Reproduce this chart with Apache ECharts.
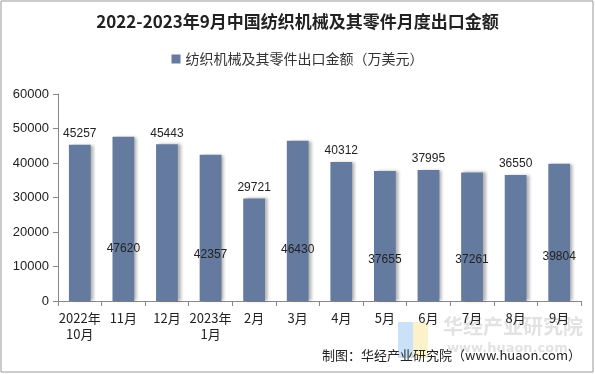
<!DOCTYPE html>
<html><head><meta charset="utf-8">
<script src="https://cdn.jsdelivr.net/npm/echarts@6/dist/echarts.min.js"></script>
<style>html,body{margin:0;padding:0;background:#fff}#c{width:595px;height:374px}</style>
</head><body><div id="c"></div>
<script>
const categories = ['2022年\n10月','11月','12月','2023年\n1月','2月','3月','4月','5月','6月','7月','8月','9月'];
const values = [45257,47620,45443,42357,29721,46430,40312,37655,37995,37261,36550,39804];
const yTicks = [0,10000,20000,30000,40000,50000,60000];
const seriesName = '纺织机械及其零件出口金额（万美元）';
const titleText = '2022-2023年9月中国纺织机械及其零件月度出口金额';
const sourceText = '制图：华经产业研究院（www.huaon.com）';

const data = values.map((v,i)=>({
  value: v,
  label: i % 2 === 0
    ? {position:'top', distance:5}
    : {position:['50%','68%'], align:'center', verticalAlign:'middle'}
}));

const chart = echarts.init(document.getElementById('c'));
chart.setOption({
  animation:false,
  title:{text:titleText,left:'center',top:8,textStyle:{fontFamily:'"Noto Sans CJK SC", serif',fontWeight:'bold',fontSize:17,color:'#222'}},
  legend:{top:47,left:'center',itemWidth:9,itemHeight:9,itemGap:4,icon:'rect',
    textStyle:{fontFamily:'"Noto Sans CJK SC"',fontSize:14,color:'#333'},data:[seriesName]},
  grid:{left:58,right:14,top:94,bottom:73},
  xAxis:{type:'category',data:categories,
    axisLine:{lineStyle:{color:'#888'}},
    axisTick:{show:true,length:5,lineStyle:{color:'#888'}},
    axisLabel:{interval:0,color:'#222',fontSize:13,fontFamily:'"Noto Sans CJK SC"',lineHeight:16,margin:9}},
  yAxis:{type:'value',min:yTicks[0],max:yTicks[yTicks.length-1],interval:10000,
    axisLine:{show:true,lineStyle:{color:'#888'}},
    axisTick:{show:true,length:5,lineStyle:{color:'#888'}},
    splitLine:{show:false},
    axisLabel:{color:'#222',fontSize:13,fontFamily:'Arial, "Liberation Sans"',margin:9,formatter:v=>String(v)}},
  graphic:[
    {type:'rect',shape:{x:1,y:1,width:592,height:371},style:{fill:'none',stroke:'#999',lineWidth:1},silent:true},
    {type:'text',left:443,top:316,z:0,style:{text:'华经产业研究院',fill:'rgba(190,190,190,0.45)',font:'bold 20px "Noto Sans CJK SC"'}},
    {type:'text',left:447,top:342,z:0,style:{text:'www.huaon.com',fill:'rgba(190,190,190,0.45)',font:'bold 13px "DejaVu Sans"'}},
    {type:'rect',shape:{x:398,y:322,width:15,height:36},style:{fill:'rgba(150,195,245,0.5)'},z:0},
    {type:'rect',shape:{x:413,y:322,width:15,height:36},style:{fill:'rgba(250,230,150,0.5)'},z:0},
    {type:'text',right:14,top:349,style:{text:sourceText,fill:'#222',font:'13px "Noto Sans CJK SC"'}}
  ],
  series:[{name:seriesName,type:'bar',barWidth:'50%',data:data,
    itemStyle:{color:'#647a9f',shadowColor:'rgba(0,0,0,0.3)',shadowBlur:3,shadowOffsetX:3,shadowOffsetY:0},
    label:{show:true,color:'#222',fontSize:12,fontFamily:'Arial, "Liberation Sans"'}}]
});
</script></body></html>
